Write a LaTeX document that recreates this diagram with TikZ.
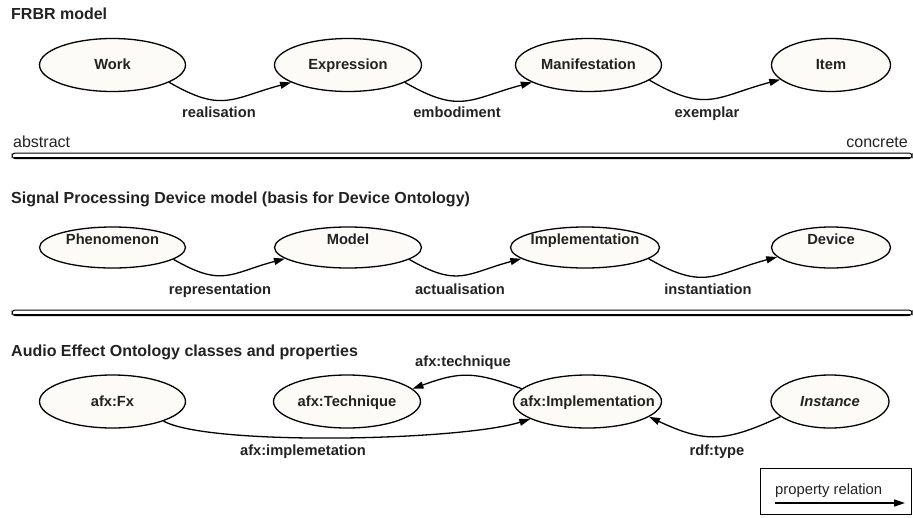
\documentclass[tikz,border=0pt]{standalone}
\usepackage{fontspec}
\setmainfont{Liberation Sans}
\usetikzlibrary{shapes.geometric,arrows.meta}

\definecolor{paper}{HTML}{FCFBF7}
\definecolor{ink}{HTML}{222222}

\newcommand{\titlefont}{\fontsize{16}{19}\selectfont\bfseries}
\newcommand{\entfont}{\fontsize{14.7}{17}\selectfont\bfseries}
\newcommand{\plainfont}{\fontsize{16}{19}\selectfont}
\newcommand{\legfont}{\fontsize{14.8}{17}\selectfont}
% text that does not widen the ellipse, shifted up by #1
\newcommand{\etext}[2][-4.5]{\makebox[0pt]{\raisebox{#1pt}[0pt][0pt]{#2}}}

\tikzset{
  entity/.style={ellipse, draw, line width=1.3pt, fill=paper, inner sep=0pt,
    minimum width=146pt, minimum height=53pt, font=\entfont, text=ink},
  rel/.style={line width=1.3pt, -{Triangle[length=11pt,width=7pt]}},
  wave/.style={rel, out=-30, in=195, looseness=1.3},
  rellabel/.style={anchor=base, inner sep=0pt, font=\entfont, text=ink},
  heading/.style={anchor=base west, inner sep=0pt, font=\titlefont, text=ink},
  plain/.style={inner sep=0pt, font=\plainfont, text=ink},
  scalebar/.style={line width=1pt, rounded corners=3pt, fill=white}
}

\begin{document}
\begin{tikzpicture}[x=1pt, y=1pt]
     \useasboundingbox (0,0) rectangle (913,-517);

      % FRBR row
      \node[heading] (hfrbr) at (11,-19) {FRBR model};
      \foreach \x/\w/\n/\t in {112.5/146/work/Work, 348/147/expr/Expression,
                               588.5/146/manif/Manifestation, 831/119/item/Item}
        \node[entity, minimum width=\w pt] (\n) at (\x,-65) {\etext{\t}};

      \draw[wave] (work.-17) to (expr.197);
      \draw[wave] (expr.-17) to (manif.197);
      \draw[wave] (manif.-14) to (item.196);

      \node[rellabel] (lreal) at (219,-117) {realisation};
      \node[rellabel] (lembod) at (457,-117) {embodiment};
      \node[rellabel] (lexemp) at (707,-117) {exemplar};

      % abstract -> concrete scale
      \node[plain, anchor=base west] (abs) at (13,-147.5) {abstract};
      \node[plain, anchor=base east] (conc) at (908,-147.5) {concrete};
      \draw[scalebar] (12,-153) rectangle (912,-158.5);
      \draw[line width=1.8pt] (14,-157.6) -- (910,-157.6);

      % device model row, flatter ellipses
      \node[heading] (hdev) at (11,-203) {Signal Processing Device model (basis for Device Ontology)};
      \foreach \x/\w/\n/\t in {112.5/146/phen/Phenomenon, 348/147/model/Model,
                               585/149/impln/Implementation, 831/119/device/Device}
        \node[entity, minimum width=\w pt, minimum height=41pt] (\n) at (\x,-247.5) {\etext[3]{\t}};

      \draw[wave] (phen.-11) to (model.190);
      \draw[wave] (model.-11) to (impln.190);
      \draw[wave] (impln.-10) to (device.190);

      \node[rellabel] (lrepr) at (220,-294) {representation};
      \node[rellabel] (lactu) at (460,-294) {actualisation};
      \node[rellabel] (linst) at (708,-294) {instantiation};

      \draw[scalebar] (12,-310) rectangle (912,-315.5);
      \draw[line width=1.8pt] (14,-314.6) -- (910,-314.6);

      % ontology row
      \node[heading] (hafx) at (11,-356) {Audio Effect Ontology classes and properties};
      \foreach \x/\w/\n/\t in {112.5/146/fx/afx:Fx, 347/147/tech/afx:Technique,
                               587.5/148/impl/afx:Implementation, 830/118/inst/\textit{Instance}}
        \node[entity, minimum width=\w pt] (\n) at (\x,-401.5) {\etext{\t}};

      \draw[rel] (impl.169) to[out=160, in=20, looseness=1.2] (tech.11);
      \draw[rel] (fx.-21) .. controls +(45,-25) and +(-70,-22) .. (impl.197);
      \draw[rel] (inst.197) to[out=205, in=-25, looseness=1.2] (impl.-14);

      \node[rellabel] (ltech) at (463,-366) {afx:technique};
      \node[rellabel] (limpl) at (303,-455) {afx:implemetation};
      \node[rellabel] (ltype) at (717,-455) {rdf:type};

      % legend
      \node[draw, line width=0.9pt, minimum width=151pt, minimum height=46pt,
            anchor=north west, inner sep=0pt] (legend) at (760,-468) {};
      \node[anchor=base west, inner sep=0pt, font=\legfont, text=ink] (lprop) at (775,-494) {property relation};
      \coordinate (lfrom) at (775,-503);
      \coordinate (lto) at (905,-503);
      \draw[rel, line width=1.5pt] (lfrom) -- (lto);

\end{tikzpicture}
\end{document}
